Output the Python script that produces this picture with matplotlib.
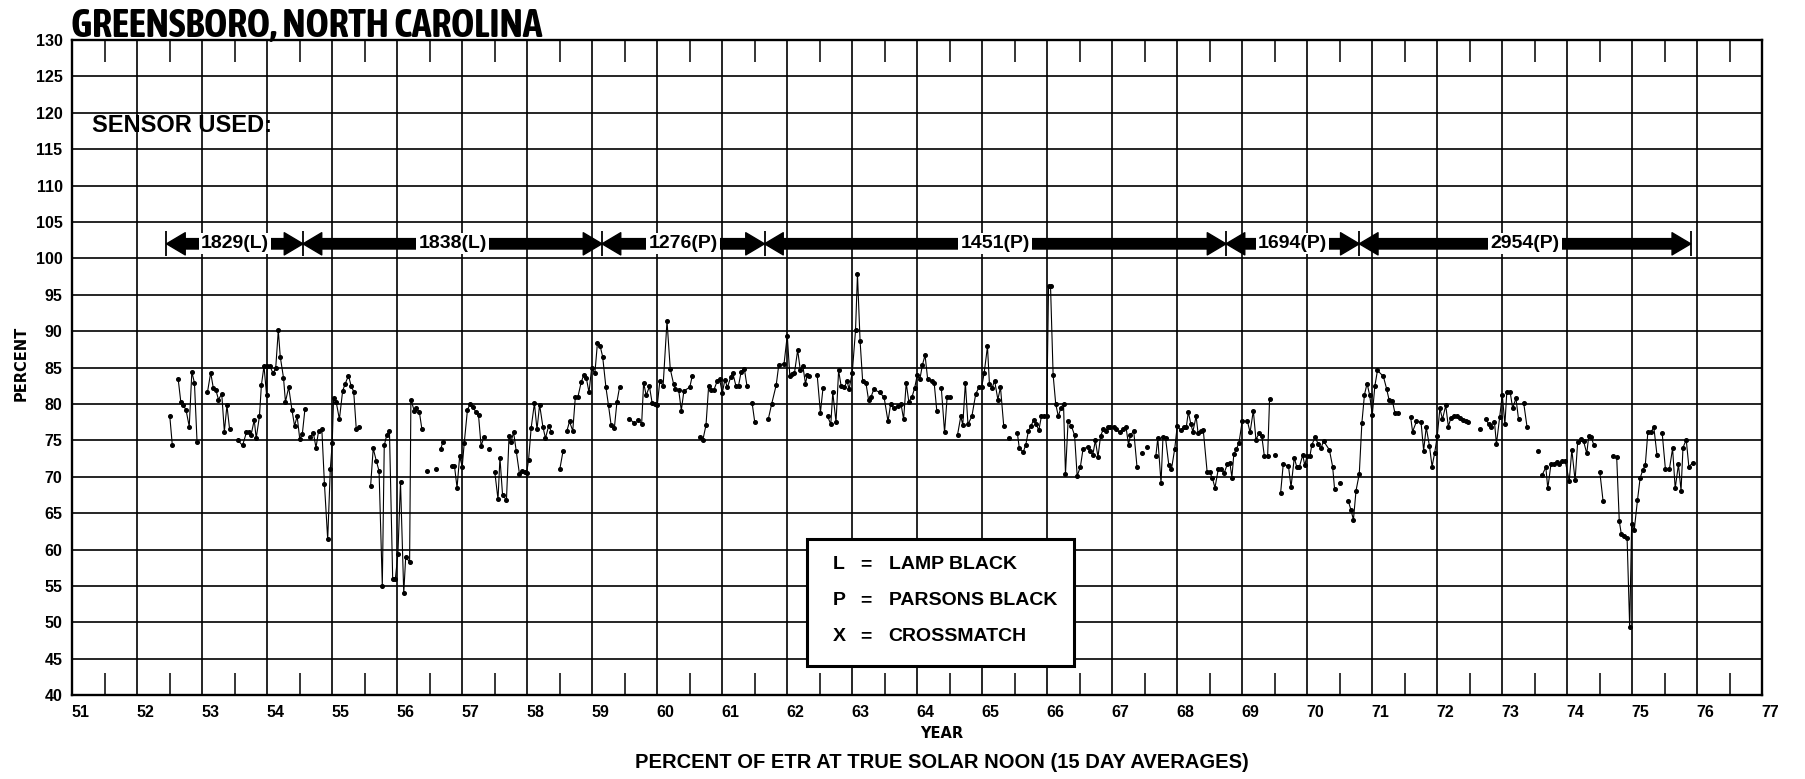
"""Percent of ETR at true solar noon, Greensboro NC, 15-day averages 1952-1975."""

import numpy as np
import matplotlib
matplotlib.use("Agg")
import matplotlib.pyplot as plt
from matplotlib import font_manager
from matplotlib.patches import FancyArrowPatch, Rectangle
from matplotlib.ticker import FixedLocator
from matplotlib.transforms import ScaledTranslation

BOLD = ["Liberation Sans", "DejaVu Sans"]


def _weight(w):
    if isinstance(w, str):
        return font_manager.weight_dict.get(w, 400)
    return int(w)


def condensed_font():
    """Return (family, stretch, size scale) for a narrow bold face, if one is installed."""
    fonts = font_manager.fontManager.ttflist
    bold_narrow = sorted({f.name for f in fonts
                          if ("Narrow" in f.name or "Condensed" in f.name)
                          and _weight(f.weight) >= 600})
    if bold_narrow:
        return bold_narrow[0], "normal", 1.16
    for f in fonts:
        if (f.name == "DejaVu Sans" and f.stretch in ("condensed", "semi-condensed")
                and _weight(f.weight) >= 600):
            return "DejaVu Sans", "condensed", 0.95
    return "Liberation Sans", "normal", 0.82


TITLE_FAMILY, TITLE_STRETCH, TITLE_SCALE = condensed_font()

# ---------------------------------------------------------------------------
# Data (None breaks the trace where periods are missing)
# ---------------------------------------------------------------------------

years = [
    52.50, 52.54, None,
    52.63, 52.67, 52.71, 52.75, 52.80, 52.84, 52.88, 52.92, None,
    53.08, 53.13, 53.17, 53.21, 53.25, 53.30, 53.34, 53.38, 53.42, None,
    53.55, 53.62, 53.68, 53.72, 53.75, 53.80, 53.83, 53.88, 53.91, 53.95,
    53.99, 54.00, 54.04, 54.09, 54.13, 54.17, 54.20, 54.25, 54.28, 54.33,
    54.38, 54.42, 54.46, 54.50, 54.54, 54.58, None,
    54.66, 54.71, 54.75, 54.79, 54.84, 54.88, 54.93, 54.97, 55.00, 55.02,
    55.06, 55.11, 55.16, 55.20, 55.25, 55.29, 55.33, 55.37, 55.41, None,
    55.59, 55.63, 55.68, 55.72, 55.77, 55.80, 55.84, 55.88, 55.93, 55.97,
    56.01, 56.05, 56.10, 56.13, 56.19, 56.21, 56.26, 56.29, 56.34, 56.38, None,
    56.46, None, 56.59, None,
    56.67, 56.70, None,
    56.84, 56.88, 56.92, 56.96, 57.00, 57.03, 57.08, 57.12, 57.16, 57.21,
    57.25, 57.29, 57.33, None,
    57.41, None,
    57.50, 57.55, 57.58, 57.62, 57.68, 57.72, 57.75, 57.79, 57.83, 57.88,
    57.92, 57.96, 57.99, 58.02, 58.06, 58.11, 58.15, 58.19, 58.24, 58.28,
    58.33, 58.37, None,
    58.50, 58.55, None,
    58.61, 58.65, 58.70, 58.74, 58.78, 58.83, 58.87, 58.91, 58.95, 58.99,
    59.04, 59.08, 59.12, 59.16, 59.21, 59.25, 59.29, 59.34, 59.38, 59.42, None,
    59.57, 59.64, None,
    59.70, 59.76, 59.79, 59.83, 59.88, 59.92, 59.96, 60.00, 60.04, 60.09,
    60.15, 60.20, 60.25, 60.28, 60.33, 60.37, 60.41, 60.50, 60.54, None,
    60.66, 60.70, 60.75, 60.79, 60.83, 60.87, 60.92, 60.96, 61.00, 61.04,
    61.08, 61.13, 61.16, 61.21, 61.25, 61.29, 61.34, 61.38, None,
    61.46, 61.50, None,
    61.71, 61.76, 61.83, 61.87, 61.95, 62.00, 62.04, 62.07, 62.11, 62.16,
    62.20, 62.24, 62.28, 62.31, 62.34, None,
    62.46, 62.51, 62.55, None,
    62.62, 62.67, 62.70, 62.75, 62.79, 62.83, 62.88, 62.92, 62.95, 63.00,
    63.05, 63.08, 63.12, 63.16, 63.21, 63.25, 63.29, 63.33, 63.42, 63.49,
    63.55, 63.59, 63.64, 63.70, 63.75, 63.79, 63.83, 63.87, 63.92, 63.96,
    64.00, 64.04, 64.08, 64.12, 64.16, 64.22, 64.26, 64.30, None,
    64.37, 64.42, 64.46, 64.51, None,
    64.62, 64.67, 64.70, 64.74, 64.78, 64.84, 64.90, 64.95, 64.99, 65.03,
    65.08, 65.11, 65.15, 65.19, 65.24, 65.28, 65.33, None,
    65.41, None,
    65.54, 65.57, 65.63, 65.67, 65.71, 65.75, 65.79, 65.83, 65.87, 65.91,
    65.95, 65.99, 66.02, 66.05, 66.09, 66.13, 66.17, 66.21, 66.25, 66.28,
    66.32, 66.37, 66.42, 66.46, 66.51, 66.55, 66.62, 66.66, 66.70, 66.74,
    66.78, 66.82, 66.86, 66.90, 66.94, 66.97, 67.02, 67.05, 67.12, 67.16,
    67.21, 67.25, 67.28, 67.33, 67.38, None,
    67.46, None, 67.54, None,
    67.67, 67.70, 67.75, 67.78, 67.82, 67.87, 67.91, 67.96, 68.00, 68.05,
    68.10, 68.14, 68.17, 68.21, 68.24, 68.29, 68.32, 68.36, 68.40, 68.46,
    68.50, 68.54, 68.58, 68.63, 68.68, 68.72, 68.77, 68.81, 68.84, 68.87,
    68.91, 68.95, 69.00, 69.08, 69.12, 69.17, 69.21, 69.26, 69.30, 69.34,
    69.39, 69.42, None,
    69.51, None,
    69.59, 69.63, 69.71, 69.75, 69.80, 69.84, 69.88, 69.93, 69.96, 70.00,
    70.04, 70.07, 70.12, 70.17, 70.21, 70.25, 70.34, 70.39, 70.42, None,
    70.50, None,
    70.63, 70.67, 70.71, 70.75, 70.80, 70.84, 70.88, 70.92, 70.96, 71.00,
    71.04, 71.08, 71.17, 71.22, 71.26, 71.31, 71.35, 71.40, None,
    71.59, 71.62, 71.68, 71.75, 71.79, 71.83, 71.88, 71.92, 71.96, 72.00,
    72.04, 72.08, 72.13, 72.17, 72.21, 72.26, 72.30, 72.35, 72.39, 72.44,
    72.48, None,
    72.66, None,
    72.75, 72.79, 72.83, 72.88, 72.91, 72.96, 73.00, 73.04, 73.07, 73.12,
    73.16, 73.21, 73.25, None,
    73.33, 73.38, None,
    73.55, None,
    73.61, 73.67, 73.70, 73.75, 73.79, 73.84, 73.88, 73.92, 73.97, 74.03,
    74.07, 74.12, 74.16, 74.21, 74.25, 74.30, 74.33, 74.37, 74.41, None,
    74.50, 74.55, None,
    74.71, 74.76, 74.80, 74.83, 74.87, 74.92, 74.96, 74.99, 75.03, 75.08,
    75.12, 75.16, 75.20, 75.24, 75.29, 75.33, 75.38, None,
    75.46, 75.51, 75.57, 75.62, 75.66, 75.71, 75.75, 75.78, 75.83, 75.87,
    75.93,
]

percent = [
    78.4, 74.3, None,
    83.4, 80.3, 79.8, 79.2, 76.9, 84.4, 82.9, 74.8, None,
    81.6, 84.3, 82.2, 81.9, 80.6, 81.4, 76.2, 79.8, 76.6, None,
    75.0, 74.3, 76.1, 76.1, 75.7, 77.8, 75.3, 78.3, 82.6, 85.2,
    81.2, 85.2, 85.2, 84.2, 84.9, 90.1, 86.5, 83.6, 80.3, 82.3,
    79.2, 77.0, 78.3, 75.2, 75.9, 79.3, None,
    75.4, 76.0, 74.0, 76.3, 76.5, 69.0, 61.4, 71.0, 74.7, 80.8,
    80.3, 77.9, 81.8, 82.8, 83.9, 82.5, 81.7, 76.5, 76.9, None,
    68.7, 73.9, 72.1, 70.8, 55.0, 74.3, 75.8, 76.3, 55.9, 55.9,
    59.4, 69.3, 54.0, 59.0, 58.3, 80.6, 79.1, 79.4, 78.9, 76.5, None,
    70.8, None, 71.1, None,
    73.8, 74.8, None,
    71.5, 71.5, 68.5, 72.8, 71.4, 74.6, 79.2, 80.0, 79.6, 78.9,
    78.5, 74.2, 75.4, None,
    73.8, None,
    70.7, 66.9, 72.6, 67.5, 66.8, 75.6, 74.8, 76.1, 73.6, 70.4,
    70.8, 70.7, 70.5, 72.3, 76.7, 80.1, 76.5, 79.9, 76.9, 75.3,
    77.0, 76.2, None,
    71.0, 73.5, None,
    76.3, 77.6, 76.3, 81.0, 81.0, 83.0, 84.0, 83.5, 81.6, 84.9,
    84.2, 88.4, 88.0, 86.5, 82.3, 79.8, 77.1, 76.7, 80.3, 82.3, None,
    78.0, 77.4, None,
    77.8, 77.3, 82.9, 81.2, 82.4, 80.2, 80.0, 79.8, 83.2, 82.5,
    91.4, 84.8, 82.8, 82.0, 81.9, 79.1, 81.8, 82.3, 83.9, None,
    75.5, 75.0, 77.1, 82.4, 81.9, 81.9, 83.1, 83.4, 81.5, 83.3,
    82.3, 83.7, 84.3, 82.5, 82.5, 84.4, 84.8, 82.5, None,
    80.1, 77.5, None,
    78.0, 80.0, 82.6, 85.4, 85.5, 89.4, 83.8, 84.1, 84.2, 87.4,
    84.7, 85.2, 82.8, 84.0, 83.8, None,
    84.0, 78.8, 82.2, None,
    78.3, 77.2, 81.6, 77.5, 84.6, 82.4, 82.3, 83.2, 82.0, 84.3,
    90.1, 97.8, 88.7, 83.1, 82.9, 80.6, 81.0, 82.0, 81.6, 80.9,
    77.6, 80.0, 79.4, 79.7, 80.0, 77.9, 82.9, 80.3, 81.0, 82.2,
    84.0, 83.4, 85.4, 86.7, 83.4, 83.1, 82.9, 79.1, None,
    82.2, 76.1, 81.0, 81.0, None,
    75.8, 78.3, 77.1, 82.9, 77.2, 78.3, 81.4, 82.3, 82.3, 84.3,
    87.9, 82.8, 82.2, 83.2, 80.6, 82.3, 77.0, None,
    75.3, None,
    76.0, 73.9, 73.4, 74.4, 76.3, 77.0, 77.8, 77.2, 76.4, 78.3,
    78.3, 78.3, 96.2, 96.2, 84.0, 80.0, 78.3, 79.5, 80.0, 70.4,
    77.6, 77.0, 75.7, 70.1, 71.4, 73.8, 74.1, 73.6, 73.0, 75.0,
    72.7, 75.6, 76.5, 76.3, 76.8, 76.9, 76.8, 76.5, 76.1, 76.5,
    76.9, 74.4, 75.7, 76.3, 71.4, None,
    73.2, None, 74.1, None,
    72.8, 75.3, 69.2, 75.4, 75.3, 71.6, 71.0, 73.8, 77.0, 76.4,
    76.8, 76.9, 78.9, 77.2, 76.2, 78.3, 76.0, 76.3, 76.4, 70.6,
    70.6, 69.8, 68.5, 71.0, 71.1, 70.5, 71.7, 71.9, 69.9, 73.1,
    73.8, 74.7, 77.7, 77.6, 76.1, 79.1, 75.1, 76.0, 75.6, 72.8,
    72.8, 80.7, None,
    73.0, None,
    67.8, 71.7, 71.5, 68.6, 72.6, 71.3, 71.4, 73.0, 71.6, 72.9,
    72.8, 74.4, 75.4, 74.5, 73.9, 74.9, 73.7, 71.4, 68.3, None,
    69.1, None,
    66.7, 65.5, 64.1, 68.1, 70.4, 77.4, 81.3, 82.8, 81.2, 78.5,
    82.5, 84.6, 83.8, 82.1, 80.5, 80.4, 78.7, 78.7, None,
    78.2, 76.2, 77.6, 77.5, 73.6, 76.8, 74.2, 71.4, 73.3, 75.6,
    79.4, 77.9, 79.8, 76.9, 78.1, 78.4, 78.3, 78.1, 77.8, 77.6,
    77.5, None,
    76.5, None,
    77.9, 77.2, 76.9, 77.5, 74.5, 78.2, 81.3, 77.2, 81.7, 81.7,
    79.4, 80.8, 77.9, None,
    80.1, 76.9, None,
    73.6, None,
    70.2, 71.3, 68.4, 71.8, 71.7, 72.0, 71.8, 72.1, 72.1, 69.4,
    73.7, 69.5, 74.8, 75.2, 74.9, 73.2, 75.6, 75.4, 74.3, None,
    70.7, 66.7, None,
    72.8, 72.7, 63.9, 62.2, 61.9, 61.6, 49.3, 63.5, 62.7, 66.8,
    69.8, 70.9, 71.6, 76.2, 76.1, 76.9, 73.0, None,
    76.0, 71.0, 71.0, 73.9, 68.4, 71.7, 68.1, 74.0, 75.1, 71.4,
    71.9,
]

# Sensor periods shown as arrows along the top of the chart
sensor_edges = [52.45, 54.55, 59.15, 61.65, 68.75, 70.8, 75.9]
sensor_names = ["1829(L)", "1838(L)", "1276(P)", "1451(P)", "1694(P)", "2954(P)"]

legend_keys = ["L", "P", "X"]
legend_names = ["LAMP BLACK", "PARSONS BLACK", "CROSSMATCH"]

year_ticks = list(range(51, 78))
percent_ticks = list(range(40, 131, 5))

# ---------------------------------------------------------------------------
# Figure
# ---------------------------------------------------------------------------

fig = plt.figure(figsize=(18.06, 7.79), dpi=100)
ax = fig.add_axes([0.0400, 0.1076, 0.9358, 0.8411])

x = np.array(years, dtype=float)
y = np.array(percent, dtype=float)
ax.plot(x, y, color="black", lw=0.8, marker="o", ms=2.6, zorder=3)

ax.set_xlim(51, 77)
ax.set_ylim(40, 130)
ax.set_xticks(year_ticks)
ax.set_yticks(percent_ticks)
ax.set_xticklabels([str(t) for t in year_ticks])
ax.grid(True, color="black", lw=1.2)
ax.set_axisbelow(True)
for s in ax.spines.values():
    s.set_linewidth(1.7)

ax.tick_params(which="major", length=0, pad=7, labelsize=11.5)
for lab in ax.get_xticklabels() + ax.get_yticklabels():
    lab.set_family(BOLD)
    lab.set_fontweight("bold")
for lab in ax.get_xticklabels():
    lab.set_transform(lab.get_transform() + ScaledTranslation(6 / 72, 0, fig.dpi_scale_trans))

# half-year marks along the top and bottom edges
ax.xaxis.set_minor_locator(FixedLocator(np.arange(51.5, 77, 1.0)))
ax.tick_params(which="minor", direction="in", length=16, width=1.1,
               top=True, bottom=True, color="black")

# Sensor arrows
arrow_y = 102.0
ax.vlines(sensor_edges, 100.3, 103.7, color="black", lw=1.3, zorder=5)
for x0, x1, name in zip(sensor_edges[:-1], sensor_edges[1:], sensor_names):
    mid = (x0 + x1) / 2
    for end in (x0, x1):
        ax.add_patch(FancyArrowPatch(
            (mid, arrow_y), (end, arrow_y),
            arrowstyle="simple,head_length=1.35,head_width=1.6,tail_width=0.75",
            mutation_scale=10, color="black", shrinkA=0, shrinkB=0, zorder=4))
    ax.text(mid, arrow_y, name, ha="center", va="center", fontsize=14,
            family=BOLD, fontweight="bold", zorder=6,
            bbox=dict(fc="white", ec="none", pad=1.5))

ax.text(51.30, 118.3, "SENSOR USED:", ha="left", va="center", fontsize=17,
        family=BOLD, fontweight="bold")

# Sensor key box
ax.add_patch(Rectangle((62.30, 44.05), 4.11, 17.41, fc="white", ec="black",
                       lw=2.2, zorder=7))
for row, (key, name) in enumerate(zip(legend_keys, legend_names)):
    ry = 57.9 - row * 4.95
    for xx, s in ((62.70, key), (63.12, "="), (63.56, name)):
        ax.text(xx, ry, s, ha="left", va="center", fontsize=14,
                family=BOLD, fontweight="bold", zorder=8)

# Titles and axis captions
fig.text(0.0393, 0.953, "GREENSBORO, NORTH CAROLINA", ha="left", va="baseline",
         fontsize=24.5 * TITLE_SCALE, family=TITLE_FAMILY, fontstretch=TITLE_STRETCH,
         fontweight="bold")
fig.text(0.0116, 0.533, "PERCENT", rotation=90, ha="center", va="center",
         fontsize=10.5, family="DejaVu Sans", fontweight="bold")
fig.text(0.5216, 0.0578, "YEAR", ha="center", va="center",
         fontsize=10.5, family="DejaVu Sans", fontweight="bold")
fig.text(0.5216, 0.0212, "PERCENT OF ETR AT TRUE SOLAR NOON (15 DAY AVERAGES)",
         ha="center", va="center", fontsize=14.5, family=BOLD, fontweight="bold")

fig.savefig("out.png", dpi=100)
